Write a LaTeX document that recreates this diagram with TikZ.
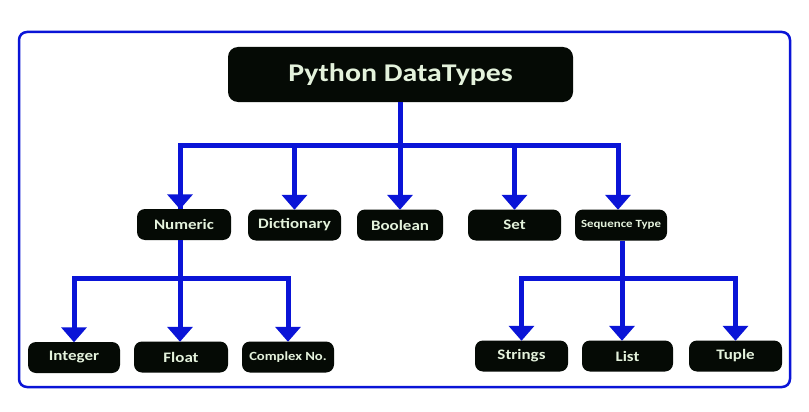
\documentclass[tikz,border=0pt]{standalone}
\usepackage{fontspec}
\setmainfont{Carlito}[FakeStretch=1.17]
\usetikzlibrary{arrows.meta}
\definecolor{pblue}{RGB}{10,20,215}
\definecolor{boxblack}{RGB}{5,10,5}
\definecolor{cream}{RGB}{228,242,220}
\tikzset{
  box/.style={fill=boxblack, rounded corners=8pt, text=cream, inner sep=0pt,
    minimum height=31pt, font=\bfseries\fontsize{14.5}{16}\selectfont},
  conn/.style={draw=pblue, line width=5pt, line join=miter},
  arr/.style={conn, -{Triangle[width=25pt,length=15pt]}, shorten >=-0.5pt}
}
\begin{document}
\begin{tikzpicture}[x=1pt,y=1pt]
\useasboundingbox[fill=white] (0,0) rectangle (809,-412);
\draw[pblue, line width=2.5pt, rounded corners=8pt] (19,-32) rectangle (790,-387);

\node[box, rounded corners=10pt, minimum width=345pt, minimum height=55pt,
  font=\bfseries\fontsize{25.5}{28}\selectfont] (title) at (400.5,-74.5) {Python DataTypes};

\node[box, minimum width=94pt] (numeric) at (184,-224.5) {Numeric};
\node[box, minimum width=93pt] (dict) at (294.5,-225) {Dictionary};
\node[box, minimum width=86pt] (bool) at (400,-225) {Boolean};
\node[box, minimum width=93pt] (set) at (514.5,-225) {Set};
\node[box, minimum width=92pt, font=\bfseries\fontsize{11}{13}\selectfont] (seq) at (621,-225) {Sequence Type};

\node[box, minimum width=92pt] (int) at (74,-357.5) {Integer};
\node[box, minimum width=94pt] (float) at (181,-357) {Float};
\node[box, minimum width=92pt, font=\bfseries\fontsize{12.5}{15}\selectfont] (complex) at (288,-357) {Complex No.};
\node[box, minimum width=93pt] (str) at (521.5,-356) {Strings};
\node[box, minimum width=91pt] (list) at (627.5,-356) {List};
\node[box, minimum width=93pt] (tuple) at (735.5,-356) {Tuple};

\coordinate (j1) at (400,-145);
\coordinate (j2) at (180,-278);
\coordinate (j3) at (622,-278);

\draw[conn] (title.south -| j1) -- (j1);
\draw[conn] (j1) -| ([xshift=-4pt]numeric.north);
\draw[arr] ([xshift=-4pt]numeric.north |- j1) -- ([xshift=-4pt]numeric.north);
\draw[arr] (j1) -| (dict.north);
\draw[arr] (j1) -- (bool.north);
\draw[arr] (j1) -| (set.north);
\draw[arr] (j1) -| ([xshift=-3pt]seq.north);

\draw[conn] ([xshift=-4pt]numeric.south) -- (j2);
\draw[arr] (j2) -| (int.north);
\draw[arr] (j2) -- (float.north -| j2);
\draw[arr] (j2) -| (complex.north);

\draw[conn] ([xshift=1pt]seq.south) -- (j3);
\draw[arr] (j3) -| (str.north);
\draw[arr] (j3) -- (list.north -| j3);
\draw[arr] (j3) -| (tuple.north);
\end{tikzpicture}
\end{document}
